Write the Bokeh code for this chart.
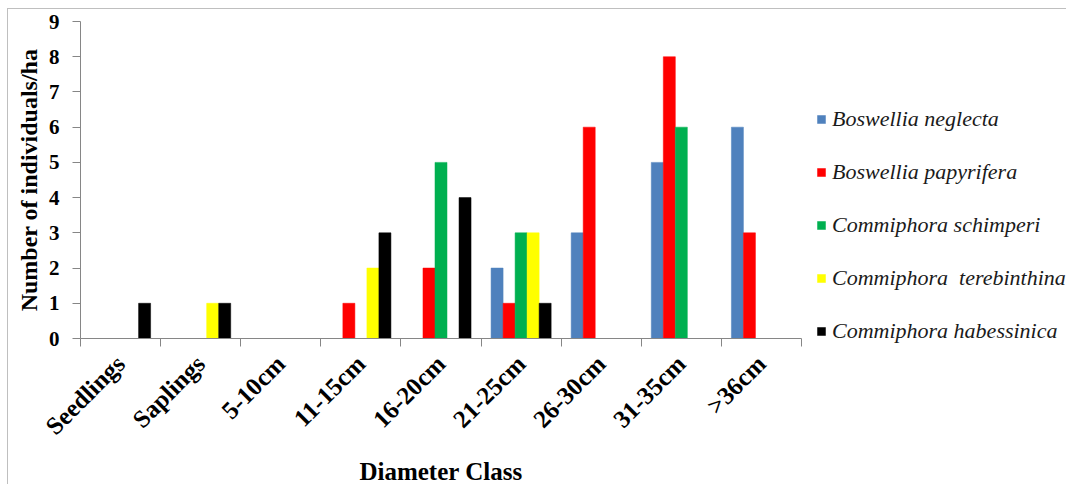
import numpy as np
from bokeh.plotting import figure
from bokeh.models import (Range1d, FixedTicker, CustomJSTickFormatter, Legend, LegendItem,
                          ColumnDataSource)
from bokeh.embed import file_html
from bokeh.resources import INLINE

categories = ["Seedlings", "Saplings", "5-10cm", "11-15cm", "16-20cm",
              "21-25cm", "26-30cm", "31-35cm", ">36cm"]
series_names = ["Boswellia neglecta", "Boswellia papyrifera", "Commiphora schimperi",
                "Commiphora  terebinthina", "Commiphora habessinica"]
boswellia_neglecta = [0, 0, 0, 0, 0, 2, 3, 5, 6]
boswellia_papyrifera = [0, 0, 0, 1, 2, 1, 6, 8, 3]
commiphora_schimperi = [0, 0, 0, 0, 5, 3, 0, 6, 0]
commiphora_terebinthina = [0, 1, 0, 2, 0, 3, 0, 0, 0]
commiphora_habessinica = [1, 1, 0, 3, 4, 1, 0, 0, 0]
series_values = [boswellia_neglecta, boswellia_papyrifera, commiphora_schimperi,
                 commiphora_terebinthina, commiphora_habessinica]
colors = ["#4F81BD", "#FF0000", "#00B050", "#FFFF00", "#000000"]
y_ticks = list(range(10))

n = len(categories)
bar_w = 0.15
offsets = [-0.3, -0.15, 0.0, 0.15, 0.3]
centers = np.arange(n) + 0.5

p = figure(frame_width=721, frame_height=317, output_backend="svg", toolbar_location=None,
           x_range=Range1d(0, n), y_range=Range1d(0, 9),
           min_border_left=72, min_border_top=12, min_border_right=0, min_border_bottom=0)
p.styles = {"margin-left": "7px", "margin-top": "8px",
            "border-top": "1px solid #BFBFBF", "border-left": "1px solid #BFBFBF"}
p.background_fill_color = "white"
p.outline_line_color = None
p.xgrid.grid_line_color = None
p.ygrid.grid_line_color = None

items = []
for name, vals, col, off in zip(series_names, series_values, colors, offsets):
    src = ColumnDataSource(dict(x=centers + off, top=vals))
    r = p.vbar(x="x", top="top", bottom=0, width=bar_w, source=src,
               fill_color=col, line_color=col, line_width=0.5)
    items.append(LegendItem(label=name, renderers=[r]))

# x axis
xa = p.xaxis[0]
xa.ticker = FixedTicker(ticks=list(centers), minor_ticks=list(range(n + 1)))
xa.formatter = CustomJSTickFormatter(args=dict(labels=categories),
                                     code="return labels[Math.floor(tick)];")
xa.major_tick_line_color = None
xa.minor_tick_line_color = "#868686"
xa.minor_tick_out = 8
xa.minor_tick_in = 0
xa.axis_line_color = "#868686"
xa.major_label_orientation = np.pi / 4
xa.major_label_standoff = 13
xa.major_label_text_font = "Liberation Serif"
xa.major_label_text_font_style = "bold"
xa.major_label_text_font_size = "25px"
xa.major_label_text_color = "black"
xa.axis_label = "Diameter Class"
xa.axis_label_text_font = "Liberation Serif"
xa.axis_label_text_font_style = "bold"
xa.axis_label_text_font_size = "25px"
xa.axis_label_text_color = "black"
xa.axis_label_standoff = 6

# y axis
ya = p.yaxis[0]
ya.ticker = FixedTicker(ticks=y_ticks)
ya.minor_tick_line_color = None
ya.major_tick_line_color = "#868686"
ya.major_tick_out = 8
ya.major_tick_in = 0
ya.axis_line_color = "#868686"
ya.major_label_standoff = 13
ya.major_label_text_font = "Liberation Serif"
ya.major_label_text_font_style = "bold"
ya.major_label_text_font_size = "21px"
ya.major_label_text_color = "black"
ya.axis_label = "Number of individuals/ha"
ya.axis_label_text_font = "Liberation Serif"
ya.axis_label_text_font_style = "bold"
ya.axis_label_text_font_size = "24px"
ya.axis_label_text_color = "black"
ya.axis_label_standoff = 4

legend = Legend(items=items, location=(15, -6), orientation="vertical")
legend.border_line_color = None
legend.background_fill_alpha = 0
legend.padding = 0
legend.margin = 0
legend.glyph_width = 10
legend.glyph_height = 10
legend.label_standoff = 6
legend.label_height = 22
legend.spacing = 27
legend.label_text_font = "Liberation Serif"
legend.label_text_font_style = "italic"
legend.label_text_font_size = "22px"
legend.label_text_color = "#1a1a1a"
p.add_layout(legend, "right")

open("out.html", "w").write(file_html(p, INLINE))
